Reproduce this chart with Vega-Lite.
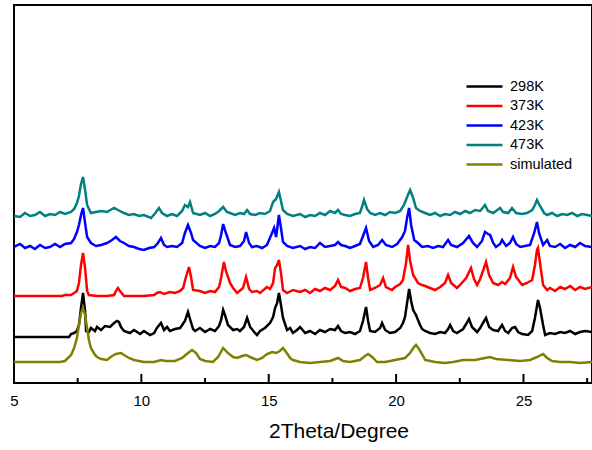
{
  "$schema": "https://vega.github.io/schema/vega-lite/v6.json",
  "width": 578,
  "height": 378,
  "autosize": {"type": "none"},
  "padding": {"left": 14, "top": 5, "right": 0, "bottom": 67},
  "config": {
    "font": "Liberation Sans",
    "view": {"stroke": "#000000", "strokeWidth": 2},
    "legend": {
      "orient": "none",
      "legendX": 451,
      "legendY": 71,
      "padding": 0,
      "rowPadding": 2.5,
      "symbolType": "M-1,0H3",
      "symbolSize": 324,
      "symbolStrokeWidth": 2.5,
      "labelOffset": 24,
      "labelFontSize": 14.5,
      "labelFont": "Liberation Sans",
      "labelColor": "#000000",
      "title": null
    }
  },
  "resolve": {"axis": {"x": "independent"}},
  "encoding": {
    "y": {
      "field": "y",
      "type": "quantitative",
      "scale": {"domain": [0, 378], "nice": false, "zero": false},
      "axis": null
    }
  },
  "layer": [
    {
      "mark": {"type": "line", "strokeWidth": 2.5, "clip": true},
      "encoding": {
        "x": {
          "field": "x",
          "type": "quantitative",
          "scale": {"domain": [5, 27.69], "nice": false, "zero": false},
          "axis": {
            "title": "2Theta/Degree",
            "values": [5, 10, 15, 20, 25],
            "domain": false,
            "ticks": false,
            "grid": false,
            "labelPadding": 10,
            "labelFontSize": 15,
            "labelColor": "#000000",
            "labelFont": "Liberation Sans",
            "labelBaseline": "top",
            "labelFlush": false,
            "titleFontSize": 21,
            "titleFontWeight": "normal",
            "titleFont": "Liberation Sans",
            "titleColor": "#000000",
            "titleX": 324.5,
            "titleY": 54,
            "titleAlign": "center",
            "titleBaseline": "alphabetic"
          }
        },
        "color": {
          "datum": "298K",
          "scale": {
            "domain": ["298K", "373K", "423K", "473K", "simulated"],
            "range": ["#000000", "#ff0000", "#0000ff", "#008080", "#808000"]
          }
        }
      },
      "data": {"values": [
        {"x":5.00,"y":46},{"x":7.16,"y":46},{"x":7.24,"y":49},{"x":7.36,"y":50},{"x":7.47,"y":52},{"x":7.55,"y":58},{"x":7.63,"y":75},{"x":7.71,"y":90},{"x":7.79,"y":72},{"x":7.83,"y":52},{"x":7.94,"y":51},{"x":8.02,"y":55},{"x":8.18,"y":52},{"x":8.26,"y":56},{"x":8.42,"y":53},{"x":8.57,"y":57},{"x":8.77,"y":56},{"x":8.93,"y":60},{"x":9.04,"y":62},{"x":9.12,"y":61},{"x":9.20,"y":56},{"x":9.32,"y":52},{"x":9.55,"y":50},{"x":9.71,"y":53},{"x":9.95,"y":49},{"x":10.10,"y":52},{"x":10.34,"y":48},{"x":10.50,"y":50},{"x":10.61,"y":55},{"x":10.77,"y":60},{"x":10.89,"y":53},{"x":11.01,"y":56},{"x":11.12,"y":52},{"x":11.32,"y":54},{"x":11.52,"y":55},{"x":11.71,"y":62},{"x":11.83,"y":71},{"x":11.91,"y":64},{"x":12.03,"y":54},{"x":12.11,"y":52},{"x":12.30,"y":55},{"x":12.50,"y":51},{"x":12.70,"y":54},{"x":12.89,"y":52},{"x":13.05,"y":57},{"x":13.13,"y":63},{"x":13.21,"y":73},{"x":13.28,"y":68},{"x":13.40,"y":58},{"x":13.60,"y":53},{"x":13.76,"y":54},{"x":13.87,"y":52},{"x":14.03,"y":56},{"x":14.15,"y":65},{"x":14.27,"y":56},{"x":14.46,"y":50},{"x":14.54,"y":48},{"x":14.66,"y":52},{"x":14.85,"y":55},{"x":15.05,"y":60},{"x":15.17,"y":66},{"x":15.25,"y":75},{"x":15.33,"y":80},{"x":15.40,"y":90},{"x":15.48,"y":78},{"x":15.56,"y":65},{"x":15.72,"y":53},{"x":15.84,"y":55},{"x":15.95,"y":50},{"x":16.11,"y":53},{"x":16.23,"y":56},{"x":16.43,"y":50},{"x":16.62,"y":52},{"x":16.82,"y":49},{"x":17.01,"y":53},{"x":17.21,"y":51},{"x":17.41,"y":54},{"x":17.60,"y":53},{"x":17.72,"y":57},{"x":17.84,"y":52},{"x":18.00,"y":50},{"x":18.19,"y":51},{"x":18.39,"y":49},{"x":18.58,"y":52},{"x":18.70,"y":62},{"x":18.82,"y":76},{"x":18.90,"y":62},{"x":18.98,"y":52},{"x":19.17,"y":51},{"x":19.37,"y":55},{"x":19.45,"y":60},{"x":19.57,"y":53},{"x":19.76,"y":50},{"x":19.96,"y":51},{"x":20.16,"y":55},{"x":20.27,"y":60},{"x":20.35,"y":66},{"x":20.43,"y":80},{"x":20.51,"y":94},{"x":20.59,"y":82},{"x":20.67,"y":73},{"x":20.78,"y":68},{"x":20.94,"y":58},{"x":21.02,"y":54},{"x":21.14,"y":52},{"x":21.33,"y":50},{"x":21.53,"y":49},{"x":21.73,"y":51},{"x":21.92,"y":50},{"x":22.04,"y":54},{"x":22.12,"y":58},{"x":22.24,"y":52},{"x":22.39,"y":50},{"x":22.63,"y":54},{"x":22.75,"y":59},{"x":22.86,"y":64},{"x":22.98,"y":56},{"x":23.18,"y":51},{"x":23.30,"y":55},{"x":23.41,"y":60},{"x":23.53,"y":65},{"x":23.65,"y":56},{"x":23.81,"y":53},{"x":24.00,"y":52},{"x":24.16,"y":58},{"x":24.28,"y":52},{"x":24.40,"y":50},{"x":24.55,"y":55},{"x":24.67,"y":56},{"x":24.79,"y":51},{"x":24.95,"y":49},{"x":25.18,"y":48},{"x":25.34,"y":52},{"x":25.45,"y":65},{"x":25.53,"y":77},{"x":25.57,"y":83},{"x":25.65,"y":75},{"x":25.77,"y":58},{"x":25.85,"y":48},{"x":26.04,"y":50},{"x":26.24,"y":49},{"x":26.44,"y":51},{"x":26.63,"y":50},{"x":26.83,"y":52},{"x":27.03,"y":49},{"x":27.22,"y":51},{"x":27.42,"y":52},{"x":27.69,"y":51}
      ]}
    },
    {
      "mark": {"type": "line", "strokeWidth": 2.5, "clip": true},
      "encoding": {
        "x": {"field": "x", "type": "quantitative", "scale": {"domain": [5, 27.69], "nice": false, "zero": false}, "axis": null},
        "color": {"datum": "373K"}
      },
      "data": {"values": [
        {"x":5.00,"y":87},{"x":6.88,"y":87},{"x":7.00,"y":88},{"x":7.24,"y":88},{"x":7.36,"y":90},{"x":7.47,"y":92},{"x":7.55,"y":100},{"x":7.63,"y":118},{"x":7.71,"y":130},{"x":7.79,"y":115},{"x":7.87,"y":92},{"x":7.94,"y":88},{"x":8.26,"y":87},{"x":8.65,"y":87},{"x":8.93,"y":88},{"x":9.00,"y":92},{"x":9.08,"y":95},{"x":9.16,"y":92},{"x":9.32,"y":87},{"x":9.71,"y":87},{"x":10.10,"y":87},{"x":10.50,"y":88},{"x":10.61,"y":90},{"x":10.73,"y":91},{"x":10.89,"y":89},{"x":11.12,"y":91},{"x":11.32,"y":90},{"x":11.52,"y":92},{"x":11.64,"y":95},{"x":11.75,"y":106},{"x":11.87,"y":116},{"x":11.95,"y":106},{"x":12.03,"y":93},{"x":12.30,"y":92},{"x":12.50,"y":90},{"x":12.70,"y":92},{"x":12.89,"y":91},{"x":13.05,"y":96},{"x":13.13,"y":105},{"x":13.24,"y":121},{"x":13.32,"y":112},{"x":13.48,"y":100},{"x":13.60,"y":95},{"x":13.76,"y":90},{"x":13.99,"y":95},{"x":14.11,"y":106},{"x":14.23,"y":94},{"x":14.34,"y":91},{"x":14.54,"y":92},{"x":14.66,"y":90},{"x":14.93,"y":96},{"x":15.05,"y":94},{"x":15.17,"y":100},{"x":15.25,"y":115},{"x":15.33,"y":118},{"x":15.40,"y":123},{"x":15.48,"y":110},{"x":15.56,"y":93},{"x":15.72,"y":90},{"x":15.95,"y":93},{"x":16.23,"y":91},{"x":16.43,"y":93},{"x":16.62,"y":90},{"x":16.82,"y":94},{"x":17.01,"y":92},{"x":17.21,"y":95},{"x":17.41,"y":93},{"x":17.60,"y":97},{"x":17.72,"y":103},{"x":17.84,"y":96},{"x":18.00,"y":95},{"x":18.19,"y":92},{"x":18.39,"y":94},{"x":18.58,"y":95},{"x":18.70,"y":105},{"x":18.82,"y":121},{"x":18.90,"y":105},{"x":18.98,"y":93},{"x":19.17,"y":95},{"x":19.37,"y":98},{"x":19.49,"y":105},{"x":19.60,"y":96},{"x":19.84,"y":93},{"x":19.96,"y":96},{"x":20.16,"y":99},{"x":20.27,"y":103},{"x":20.39,"y":120},{"x":20.47,"y":138},{"x":20.55,"y":122},{"x":20.67,"y":108},{"x":20.86,"y":100},{"x":21.02,"y":98},{"x":21.14,"y":97},{"x":21.33,"y":95},{"x":21.53,"y":93},{"x":21.73,"y":96},{"x":21.92,"y":100},{"x":22.04,"y":108},{"x":22.16,"y":100},{"x":22.39,"y":95},{"x":22.51,"y":98},{"x":22.75,"y":105},{"x":22.94,"y":115},{"x":23.06,"y":104},{"x":23.18,"y":98},{"x":23.30,"y":104},{"x":23.41,"y":112},{"x":23.53,"y":121},{"x":23.65,"y":108},{"x":23.81,"y":100},{"x":24.00,"y":98},{"x":24.16,"y":101},{"x":24.28,"y":99},{"x":24.47,"y":105},{"x":24.59,"y":116},{"x":24.71,"y":106},{"x":24.95,"y":98},{"x":25.14,"y":100},{"x":25.34,"y":103},{"x":25.45,"y":118},{"x":25.53,"y":133},{"x":25.57,"y":135},{"x":25.65,"y":120},{"x":25.77,"y":98},{"x":25.93,"y":93},{"x":26.04,"y":95},{"x":26.24,"y":92},{"x":26.44,"y":96},{"x":26.63,"y":94},{"x":26.83,"y":97},{"x":27.03,"y":93},{"x":27.22,"y":96},{"x":27.42,"y":94},{"x":27.69,"y":96}
      ]}
    },
    {
      "mark": {"type": "line", "strokeWidth": 2.5, "clip": true},
      "encoding": {
        "x": {"field": "x", "type": "quantitative", "scale": {"domain": [5, 27.69], "nice": false, "zero": false}, "axis": null},
        "color": {"datum": "423K"}
      },
      "data": {"values": [
        {"x":5.00,"y":136},{"x":5.24,"y":139},{"x":5.43,"y":135},{"x":5.63,"y":137},{"x":5.82,"y":134},{"x":6.02,"y":138},{"x":6.22,"y":135},{"x":6.41,"y":136},{"x":6.61,"y":139},{"x":6.81,"y":136},{"x":7.00,"y":139},{"x":7.24,"y":140},{"x":7.36,"y":144},{"x":7.47,"y":151},{"x":7.55,"y":158},{"x":7.63,"y":168},{"x":7.71,"y":175},{"x":7.79,"y":160},{"x":7.87,"y":146},{"x":8.02,"y":140},{"x":8.22,"y":137},{"x":8.42,"y":138},{"x":8.65,"y":140},{"x":8.85,"y":143},{"x":9.00,"y":146},{"x":9.16,"y":142},{"x":9.32,"y":140},{"x":9.51,"y":137},{"x":9.71,"y":136},{"x":9.91,"y":134},{"x":10.10,"y":133},{"x":10.30,"y":135},{"x":10.50,"y":136},{"x":10.65,"y":140},{"x":10.77,"y":145},{"x":10.89,"y":138},{"x":11.01,"y":136},{"x":11.20,"y":137},{"x":11.40,"y":136},{"x":11.60,"y":140},{"x":11.71,"y":150},{"x":11.83,"y":158},{"x":11.95,"y":150},{"x":12.03,"y":143},{"x":12.30,"y":137},{"x":12.50,"y":135},{"x":12.70,"y":137},{"x":12.89,"y":136},{"x":13.05,"y":140},{"x":13.13,"y":148},{"x":13.21,"y":159},{"x":13.32,"y":150},{"x":13.48,"y":138},{"x":13.68,"y":136},{"x":13.87,"y":137},{"x":14.03,"y":142},{"x":14.11,"y":151},{"x":14.23,"y":140},{"x":14.34,"y":136},{"x":14.54,"y":137},{"x":14.74,"y":135},{"x":14.93,"y":138},{"x":15.13,"y":150},{"x":15.21,"y":155},{"x":15.29,"y":146},{"x":15.40,"y":168},{"x":15.48,"y":155},{"x":15.56,"y":141},{"x":15.72,"y":137},{"x":15.95,"y":135},{"x":16.23,"y":137},{"x":16.43,"y":134},{"x":16.62,"y":136},{"x":16.82,"y":135},{"x":17.01,"y":140},{"x":17.21,"y":136},{"x":17.41,"y":137},{"x":17.60,"y":138},{"x":17.72,"y":141},{"x":17.84,"y":138},{"x":18.00,"y":137},{"x":18.19,"y":135},{"x":18.39,"y":137},{"x":18.58,"y":139},{"x":18.70,"y":147},{"x":18.82,"y":155},{"x":18.94,"y":142},{"x":19.10,"y":136},{"x":19.29,"y":138},{"x":19.45,"y":143},{"x":19.60,"y":138},{"x":19.84,"y":136},{"x":20.04,"y":139},{"x":20.24,"y":146},{"x":20.35,"y":152},{"x":20.43,"y":165},{"x":20.51,"y":175},{"x":20.59,"y":158},{"x":20.71,"y":143},{"x":20.86,"y":140},{"x":21.02,"y":136},{"x":21.25,"y":137},{"x":21.45,"y":135},{"x":21.65,"y":137},{"x":21.84,"y":136},{"x":22.04,"y":143},{"x":22.16,"y":138},{"x":22.39,"y":136},{"x":22.63,"y":140},{"x":22.86,"y":147},{"x":23.02,"y":140},{"x":23.18,"y":136},{"x":23.37,"y":142},{"x":23.49,"y":151},{"x":23.61,"y":149},{"x":23.69,"y":148},{"x":23.81,"y":140},{"x":23.92,"y":136},{"x":24.08,"y":139},{"x":24.16,"y":143},{"x":24.32,"y":137},{"x":24.47,"y":140},{"x":24.59,"y":146},{"x":24.71,"y":139},{"x":24.87,"y":136},{"x":25.06,"y":137},{"x":25.26,"y":138},{"x":25.42,"y":150},{"x":25.53,"y":161},{"x":25.61,"y":150},{"x":25.77,"y":138},{"x":25.93,"y":143},{"x":26.04,"y":137},{"x":26.24,"y":136},{"x":26.44,"y":139},{"x":26.63,"y":135},{"x":26.83,"y":138},{"x":27.03,"y":136},{"x":27.22,"y":140},{"x":27.42,"y":137},{"x":27.69,"y":136}
      ]}
    },
    {
      "mark": {"type": "line", "strokeWidth": 2.5, "clip": true},
      "encoding": {
        "x": {"field": "x", "type": "quantitative", "scale": {"domain": [5, 27.69], "nice": false, "zero": false}, "axis": null},
        "color": {"datum": "473K"}
      },
      "data": {"values": [
        {"x":5.00,"y":167},{"x":5.24,"y":166},{"x":5.43,"y":170},{"x":5.63,"y":167},{"x":5.82,"y":168},{"x":6.02,"y":171},{"x":6.22,"y":167},{"x":6.41,"y":169},{"x":6.61,"y":168},{"x":6.81,"y":171},{"x":7.00,"y":169},{"x":7.24,"y":171},{"x":7.36,"y":174},{"x":7.47,"y":180},{"x":7.55,"y":187},{"x":7.63,"y":199},{"x":7.71,"y":206},{"x":7.79,"y":193},{"x":7.87,"y":178},{"x":8.02,"y":170},{"x":8.22,"y":171},{"x":8.42,"y":172},{"x":8.65,"y":171},{"x":8.85,"y":174},{"x":8.93,"y":175},{"x":9.08,"y":173},{"x":9.32,"y":170},{"x":9.51,"y":168},{"x":9.71,"y":169},{"x":9.91,"y":167},{"x":10.10,"y":168},{"x":10.38,"y":165},{"x":10.55,"y":170},{"x":10.69,"y":175},{"x":10.81,"y":170},{"x":11.01,"y":167},{"x":11.20,"y":169},{"x":11.40,"y":167},{"x":11.60,"y":172},{"x":11.71,"y":178},{"x":11.83,"y":176},{"x":11.91,"y":181},{"x":12.03,"y":170},{"x":12.30,"y":168},{"x":12.50,"y":170},{"x":12.70,"y":167},{"x":12.89,"y":169},{"x":13.05,"y":172},{"x":13.21,"y":176},{"x":13.36,"y":171},{"x":13.48,"y":170},{"x":13.68,"y":168},{"x":13.87,"y":170},{"x":14.03,"y":169},{"x":14.15,"y":173},{"x":14.27,"y":169},{"x":14.46,"y":168},{"x":14.66,"y":170},{"x":14.85,"y":169},{"x":15.05,"y":172},{"x":15.17,"y":181},{"x":15.29,"y":184},{"x":15.40,"y":191},{"x":15.48,"y":182},{"x":15.56,"y":173},{"x":15.72,"y":169},{"x":15.95,"y":167},{"x":16.23,"y":169},{"x":16.43,"y":166},{"x":16.62,"y":168},{"x":16.82,"y":167},{"x":17.01,"y":170},{"x":17.21,"y":168},{"x":17.41,"y":172},{"x":17.60,"y":170},{"x":17.72,"y":173},{"x":17.84,"y":169},{"x":18.00,"y":168},{"x":18.19,"y":167},{"x":18.39,"y":169},{"x":18.58,"y":170},{"x":18.66,"y":176},{"x":18.74,"y":183},{"x":18.86,"y":174},{"x":18.98,"y":170},{"x":19.17,"y":168},{"x":19.37,"y":170},{"x":19.57,"y":168},{"x":19.76,"y":171},{"x":19.96,"y":170},{"x":20.16,"y":172},{"x":20.31,"y":178},{"x":20.43,"y":186},{"x":20.55,"y":193},{"x":20.67,"y":185},{"x":20.78,"y":175},{"x":20.94,"y":172},{"x":21.14,"y":170},{"x":21.33,"y":168},{"x":21.53,"y":170},{"x":21.73,"y":167},{"x":21.92,"y":169},{"x":22.12,"y":168},{"x":22.31,"y":171},{"x":22.51,"y":169},{"x":22.71,"y":172},{"x":22.90,"y":170},{"x":23.10,"y":173},{"x":23.30,"y":172},{"x":23.49,"y":178},{"x":23.61,"y":172},{"x":23.81,"y":170},{"x":24.08,"y":175},{"x":24.20,"y":171},{"x":24.40,"y":170},{"x":24.55,"y":175},{"x":24.71,"y":170},{"x":24.95,"y":169},{"x":25.14,"y":170},{"x":25.34,"y":173},{"x":25.45,"y":178},{"x":25.53,"y":183},{"x":25.65,"y":177},{"x":25.81,"y":170},{"x":25.93,"y":168},{"x":26.12,"y":170},{"x":26.32,"y":167},{"x":26.52,"y":169},{"x":26.71,"y":168},{"x":26.91,"y":170},{"x":27.11,"y":167},{"x":27.30,"y":169},{"x":27.50,"y":168},{"x":27.69,"y":167}
      ]}
    },
    {
      "mark": {"type": "line", "strokeWidth": 2.5, "clip": true},
      "encoding": {
        "x": {"field": "x", "type": "quantitative", "scale": {"domain": [5, 27.69], "nice": false, "zero": false}, "axis": null},
        "color": {"datum": "simulated"}
      },
      "data": {"values": [
        {"x":5.00,"y":21},{"x":6.81,"y":21},{"x":7.00,"y":22},{"x":7.24,"y":28},{"x":7.36,"y":35},{"x":7.47,"y":45},{"x":7.55,"y":58},{"x":7.63,"y":70},{"x":7.71,"y":75},{"x":7.79,"y":68},{"x":7.87,"y":55},{"x":7.94,"y":43},{"x":8.02,"y":35},{"x":8.18,"y":28},{"x":8.26,"y":26},{"x":8.42,"y":24},{"x":8.65,"y":23},{"x":8.85,"y":27},{"x":9.00,"y":29},{"x":9.20,"y":30},{"x":9.32,"y":28},{"x":9.51,"y":25},{"x":9.71,"y":23},{"x":10.10,"y":21},{"x":10.50,"y":21},{"x":10.77,"y":23},{"x":10.95,"y":22},{"x":11.32,"y":22},{"x":11.60,"y":25},{"x":11.83,"y":30},{"x":11.99,"y":33},{"x":12.15,"y":30},{"x":12.30,"y":24},{"x":12.50,"y":22},{"x":12.81,"y":21},{"x":13.01,"y":26},{"x":13.21,"y":35},{"x":13.40,"y":30},{"x":13.60,"y":26},{"x":13.76,"y":25},{"x":13.95,"y":27},{"x":14.11,"y":28},{"x":14.27,"y":26},{"x":14.54,"y":23},{"x":14.74,"y":25},{"x":14.93,"y":29},{"x":15.13,"y":31},{"x":15.29,"y":30},{"x":15.44,"y":32},{"x":15.56,"y":35},{"x":15.68,"y":31},{"x":15.84,"y":25},{"x":15.95,"y":23},{"x":16.23,"y":21},{"x":16.62,"y":20},{"x":17.01,"y":21},{"x":17.41,"y":22},{"x":17.72,"y":25},{"x":17.92,"y":22},{"x":18.19,"y":21},{"x":18.58,"y":23},{"x":18.78,"y":27},{"x":18.90,"y":29},{"x":19.06,"y":26},{"x":19.25,"y":21},{"x":19.57,"y":21},{"x":19.96,"y":23},{"x":20.35,"y":25},{"x":20.55,"y":30},{"x":20.70,"y":36},{"x":20.78,"y":38},{"x":20.90,"y":34},{"x":21.06,"y":27},{"x":21.14,"y":23},{"x":21.53,"y":21},{"x":21.92,"y":20},{"x":22.24,"y":21},{"x":22.63,"y":23},{"x":23.10,"y":23},{"x":23.49,"y":25},{"x":23.69,"y":26},{"x":23.92,"y":24},{"x":24.40,"y":23},{"x":24.87,"y":22},{"x":25.26,"y":23},{"x":25.53,"y":26},{"x":25.77,"y":29},{"x":25.93,"y":25},{"x":26.12,"y":22},{"x":26.44,"y":21},{"x":26.83,"y":21},{"x":27.22,"y":20},{"x":27.69,"y":21}
      ]}
    },
    {
      "mark": {"type": "rule", "strokeWidth": 2, "stroke": "#000000"},
      "encoding": {
        "x": {"field": "tick", "type": "quantitative", "scale": {"domain": [5, 27.69], "nice": false, "zero": false}, "axis": null},
        "y": {"field": "y0", "type": "quantitative"},
        "y2": {"field": "y1"}
      },
      "data": {"values": [
        {"tick":5,"y0":0,"y1":9},{"tick":7.5,"y0":0,"y1":5},{"tick":10,"y0":0,"y1":9},{"tick":12.5,"y0":0,"y1":5},{"tick":15,"y0":0,"y1":9},{"tick":17.5,"y0":0,"y1":5},{"tick":20,"y0":0,"y1":9},{"tick":22.5,"y0":0,"y1":5},{"tick":25,"y0":0,"y1":9},{"tick":27.5,"y0":0,"y1":5}
      ]}
    }
  ]
}
